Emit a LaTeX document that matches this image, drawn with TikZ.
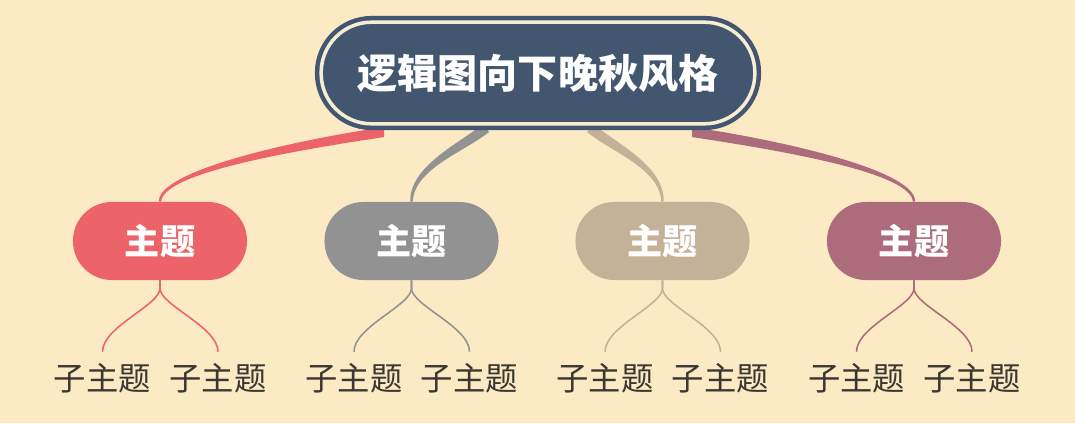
\documentclass[tikz,border=0pt]{standalone}
\usepackage{fontspec}
\newfontfamily\cjk{Noto Sans CJK SC}
\usepackage{xcolor}
\usetikzlibrary{backgrounds,calc}

\definecolor{bgcol}{HTML}{FCEAC4}
\definecolor{rootcol}{HTML}{43566F}
\definecolor{ringcol}{HTML}{F6EDD2}
\definecolor{redcol}{HTML}{EC6369}
\definecolor{graycol}{HTML}{929292}
\definecolor{tancol}{HTML}{C4B197}
\definecolor{mauvecol}{HTML}{AC6C7B}
\definecolor{subtext}{HTML}{3B3731}

\tikzset{
	rootbox/.style={draw=rootcol, double=ringcol, line width=3.2pt, double distance=2.5pt, fill=rootcol, rounded corners=1.26cm, minimum width=10.84cm, minimum height=2.54cm, text=white, font=\cjk\bfseries\fontsize{28.5}{28.5}\selectfont},
	topicbox/.style={fill=#1, rounded corners=0.97cm, minimum width=4.35cm, minimum height=1.95cm, text=white, font=\cjk\bfseries\fontsize{25}{25}\selectfont},
	subtopic/.style={inner sep=0pt, minimum height=1.3cm, text=subtext, font=\cjk\fontsize{23}{23}\selectfont},
	subline/.style={draw=#1, line width=1.1pt},
}

\begin{document}
\begin{tikzpicture}[x=0.025cm, y=-0.025cm]
		\useasboundingbox (0,0) rectangle (1075,423);
		% main topic
		\node[rootbox] (root) at (538,73) {逻辑图向下晚秋风格};
		% topics
		\node[topicbox=redcol] (t1) at (160,241) {主题};
		\node[topicbox=graycol] (t2) at (411.5,241) {主题};
		\node[topicbox=tancol] (t3) at (662.5,241) {主题};
		\node[topicbox=mauvecol] (t4) at (914,241) {主题};
		% subtopics
		\node[subtopic] (s11) at (102.5,378) {子主题};
		\node[subtopic] (s12) at (218,378) {子主题};
		\node[subtopic] (s21) at (354,378) {子主题};
		\node[subtopic] (s22) at (469.5,378) {子主题};
		\node[subtopic] (s31) at (605,378) {子主题};
		\node[subtopic] (s32) at (720.5,378) {子主题};
		\node[subtopic] (s41) at (856.5,378) {子主题};
		\node[subtopic] (s42) at (972,378) {子主题};
		% topic to subtopic
		\draw[subline=redcol] (t1.south) -- ++(0,8) .. controls +(0,17) and +(0,-25) .. (s11.north);
		\draw[subline=redcol] (t1.south) -- ++(0,8) .. controls +(0,17) and +(0,-25) .. (s12.north);
		\draw[subline=graycol] (t2.south) -- ++(0,8) .. controls +(0,17) and +(0,-25) .. (s21.north);
		\draw[subline=graycol] (t2.south) -- ++(0,8) .. controls +(0,17) and +(0,-25) .. (s22.north);
		\draw[subline=tancol] (t3.south) -- ++(0,8) .. controls +(0,17) and +(0,-25) .. (s31.north);
		\draw[subline=tancol] (t3.south) -- ++(0,8) .. controls +(0,17) and +(0,-25) .. (s32.north);
		\draw[subline=mauvecol] (t4.south) -- ++(0,8) .. controls +(0,17) and +(0,-25) .. (s41.north);
		\draw[subline=mauvecol] (t4.south) -- ++(0,8) .. controls +(0,17) and +(0,-25) .. (s42.north);
		% main topic to topics, under the nodes
		\begin{scope}[on background layer]
			\fill[bgcol] (0,0) rectangle (1075,423);
			\fill[redcol] ($(root.south)+(-154,1)$) .. controls +(-100,15) and +(-1,-30) .. ($(t1.north)+(-1.2,0)$)
				-- ($(t1.north)+(1.2,0)$) .. controls +(1.5,-28) and +(-100,15) .. ($(root.south)+(-154,11)$) -- cycle;
			\fill[graycol] ($(root.south)+(-55,-2)$) .. controls +(-25,20) and +(-1,-35) .. ($(t2.north)+(-1.2,0)$)
				-- ($(t2.north)+(1.2,0)$) .. controls +(1.5,-33) and +(-25,20) .. ($(root.south)+(-49,6)$) -- cycle;
			\fill[tancol] ($(root.south)+(55,-2)$) .. controls +(25,20) and +(1,-35) .. ($(t3.north)+(1.2,0)$)
				-- ($(t3.north)+(-1.2,0)$) .. controls +(-1.5,-33) and +(25,20) .. ($(root.south)+(49,6)$) -- cycle;
			\fill[mauvecol] ($(root.south)+(154,1)$) .. controls +(100,15) and +(1,-30) .. ($(t4.north)+(1.2,0)$)
				-- ($(t4.north)+(-1.2,0)$) .. controls +(-1.5,-28) and +(100,15) .. ($(root.south)+(154,11)$) -- cycle;
		\end{scope}
\end{tikzpicture}
\end{document}
